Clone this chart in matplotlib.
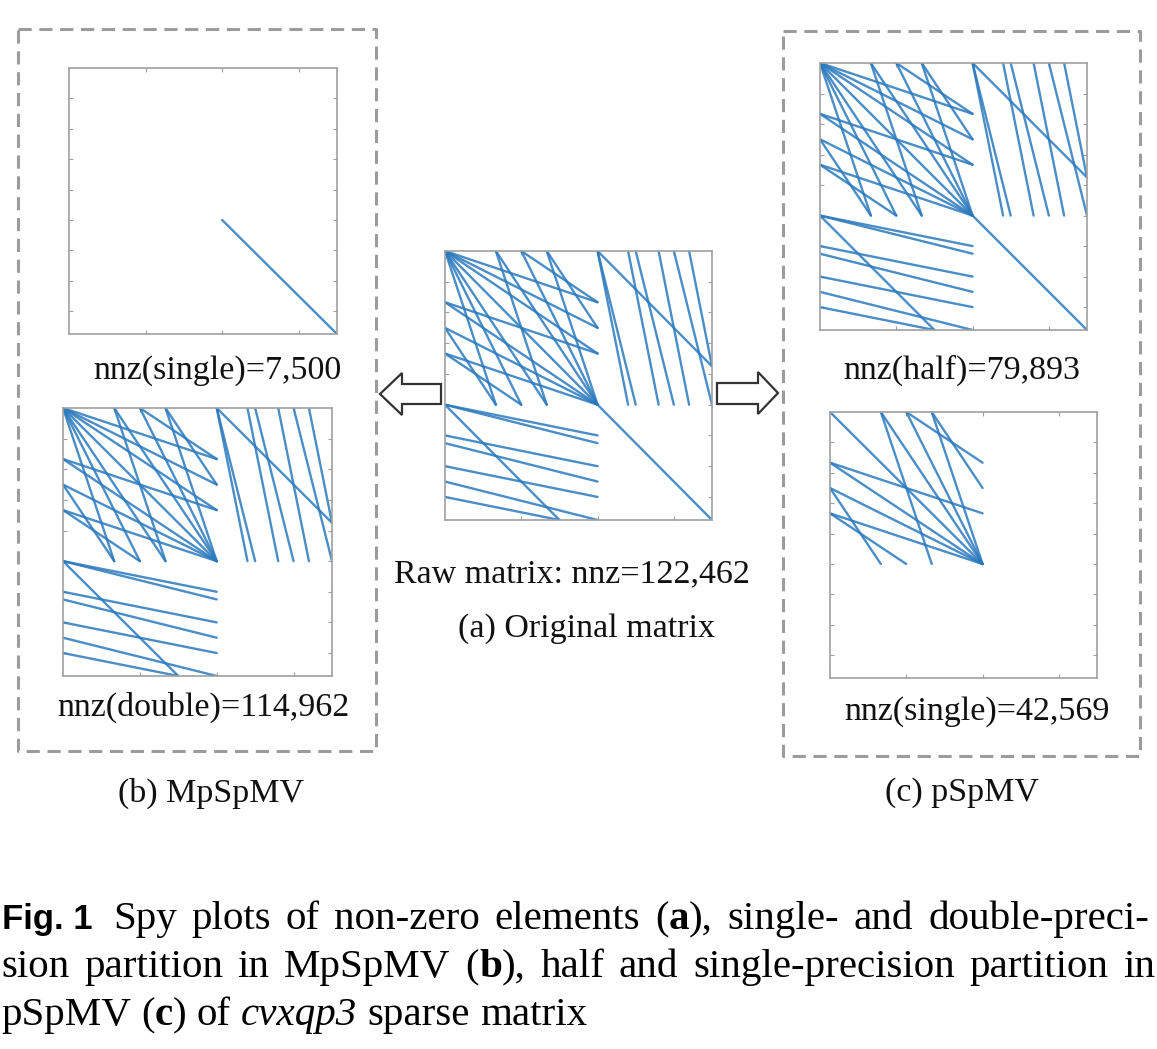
import re
import matplotlib
matplotlib.use("Agg")
import matplotlib.pyplot as plt
from matplotlib.patches import Polygon

plt.rcParams['lines.scale_dashes'] = False

W, H = 1157, 1049
SERIF = 'Liberation Serif'
SPY_COLOR = '#2a79bd'
FRAME = '#a0a0a0'

# cvxqp3: 17500 x 17500, nonzero runs as (col0, row0, col1, row1)
N = 17500
X_TICKS = [5000, 10000, 15000]
Y_TICKS = [2000, 4000, 6000, 8000, 10000, 12000, 14000, 16000]

# upper-left Hessian block
H_FROM_ORIGIN = [
    (0, 0, 10000, 5000), (0, 0, 5000, 10000),
    (0, 0, 10000, 3333), (0, 0, 3333, 10000),
    (0, 0, 10000, 6667), (0, 0, 6667, 10000),
]
H_OTHER = [
    (0, 0, 10000, 10000),
    (0, 5000, 10000, 10000), (5000, 0, 10000, 10000),
    (0, 3333, 10000, 6667), (3333, 0, 6667, 10000),
    (0, 6667, 10000, 10000), (6667, 0, 10000, 10000),
    (0, 6667, 5000, 10000), (6667, 0, 10000, 5000),
    (5000, 0, 10000, 3333), (0, 5000, 3333, 10000),
    (0, 3333, 10000, 10000), (3333, 0, 10000, 10000),
]
# lower-left constraint block A
A_BLOCK = [
    (0, 10000, 7500, 17500),
    (0, 10000, 10000, 12500), (0, 12500, 10000, 15000), (0, 15000, 10000, 17500),
    (0, 10000, 10000, 12000), (0, 12000, 10000, 14000), (0, 14000, 10000, 16000),
    (0, 16000, 7500, 17500),
]
# upper-right block A^T
AT_BLOCK = [
    (10000, 0, 17500, 7500),
    (10000, 0, 12500, 10000), (12500, 0, 15000, 10000), (15000, 0, 17500, 10000),
    (10000, 0, 12000, 10000), (12000, 0, 14000, 10000), (14000, 0, 16000, 10000),
    (16000, 0, 17500, 7500),
]
# lower-right diagonal
DIAG_BLOCK = [(10000, 10000, 17500, 17500)]

ALL = H_FROM_ORIGIN + H_OTHER + A_BLOCK + AT_BLOCK + DIAG_BLOCK
MP_SINGLE = DIAG_BLOCK
MP_DOUBLE = H_FROM_ORIGIN + H_OTHER + A_BLOCK + AT_BLOCK
P_HALF = ALL
P_SINGLE = H_OTHER

fig = plt.figure(figsize=(W / 100, H / 100), dpi=100)

# overlay in pixel coordinates for boxes, arrows and text
ov = fig.add_axes([0, 0, 1, 1])
ov.set_xlim(0, W)
ov.set_ylim(H, 0)
ov.axis('off')


def px_axes(x0, y0, x1, y1):
    return fig.add_axes([x0 / W, 1 - y1 / H, (x1 - x0) / W, (y1 - y0) / H])


def spy(rect, segs):
    ax = px_axes(*rect)
    for c0, r0, c1, r1 in segs:
        ax.plot([c0, c1], [r0, r1], color=SPY_COLOR, lw=1.7, alpha=0.85,
                solid_capstyle='round')
    ax.set_xlim(0, N)
    ax.set_ylim(N, 0)
    ax.set_xticks(X_TICKS)
    ax.set_yticks(Y_TICKS)
    ax.tick_params(direction='in', length=3, width=0.8, color=FRAME,
                   top=True, right=True, labelbottom=False, labelleft=False)
    for s in ax.spines.values():
        s.set_color(FRAME)
        s.set_linewidth(1.2)
    return ax


spy((445, 251, 712, 520), ALL)
spy((69, 68, 337, 334), MP_SINGLE)
spy((63, 408, 332, 676), MP_DOUBLE)
spy((820, 63, 1087, 330), P_HALF)
spy((830, 412, 1097, 678), P_SINGLE)

# dashed group boxes
for x0, y0, x1, y1 in [(18, 29, 376, 751), (783, 31, 1140, 756)]:
    ov.plot([x0, x1, x1, x0, x0], [y0, y0, y1, y1, y0], color='#9c9c9c',
            lw=2.2, linestyle=(0, (9.5, 5.5)))

# hollow block arrows
left_arrow = [(380, 394), (402, 373), (402, 384), (441, 384), (441, 404), (402, 404), (402, 415)]
right_arrow = [(778, 393), (758, 372), (758, 383), (717, 383), (717, 404), (758, 404), (758, 414)]
for pts in (left_arrow, right_arrow):
    ov.add_patch(Polygon(pts, closed=True, facecolor='white', edgecolor='#333333', lw=1.6))

# panel labels
LABELS = [
    ('nnz(single)=7,500', 217, 371),
    ('nnz(double)=114,962', 203, 707),
    ('Raw matrix: nnz=122,462', 572, 574),
    ('(a) Original matrix', 587, 629),
    ('nnz(half)=79,893', 962, 370),
    ('nnz(single)=42,569', 977, 712),
    ('(b) MpSpMV', 211, 793),
    ('(c) pSpMV', 962, 793),
]
for s, x, y in LABELS:
    ov.text(x, y, s, family=SERIF, fontsize=24.5, ha='center', va='center', color='#111111')

# caption, justified like the journal layout
CAP_SIZE = 29.5
STYLES = {'r': dict(family=SERIF), 'b': dict(family=SERIF, weight='bold'),
          'i': dict(family=SERIF, style='italic')}
renderer = fig.canvas.get_renderer()


def caption_line(text, y, x0, x1=None):
    words = []
    for w in text.split():
        runs = []
        for p in re.split(r'(\*[^*]+\*|_[^_]+_)', w):
            if not p:
                continue
            st = 'b' if p.startswith('*') else 'i' if p.startswith('_') else 'r'
            t = ov.text(0, y, p.strip('*_'), fontsize=CAP_SIZE, va='baseline',
                        ha='left', color='black', **STYLES[st])
            runs.append((t, t.get_window_extent(renderer).width))
        words.append(runs)
    widths = [sum(wd for _, wd in r) for r in words]
    if x1 is None:
        sp = ov.text(0, 0, 'a a', fontsize=CAP_SIZE, family=SERIF)
        sa = ov.text(0, 0, 'aa', fontsize=CAP_SIZE, family=SERIF)
        gap = sp.get_window_extent(renderer).width - sa.get_window_extent(renderer).width
        sp.remove()
        sa.remove()
    else:
        gap = (x1 - x0 - sum(widths)) / (len(words) - 1)
    x = x0
    for runs, wd in zip(words, widths):
        for t, tw in runs:
            t.set_x(x)
            x += tw
        x += gap


ov.text(2, 929, 'Fig. 1', family='Liberation Sans', weight='bold', fontsize=25,
        va='baseline', ha='left')
caption_line('Spy plots of non-zero elements (*a*), single- and double-preci-', 929, 113, 1149)
caption_line('sion partition in MpSpMV (*b*), half and single-precision partition in', 977, 1, 1155)
caption_line('pSpMV (*c*) of _cvxqp3_ sparse matrix', 1025, 1)

fig.savefig('out.png', dpi=100)
